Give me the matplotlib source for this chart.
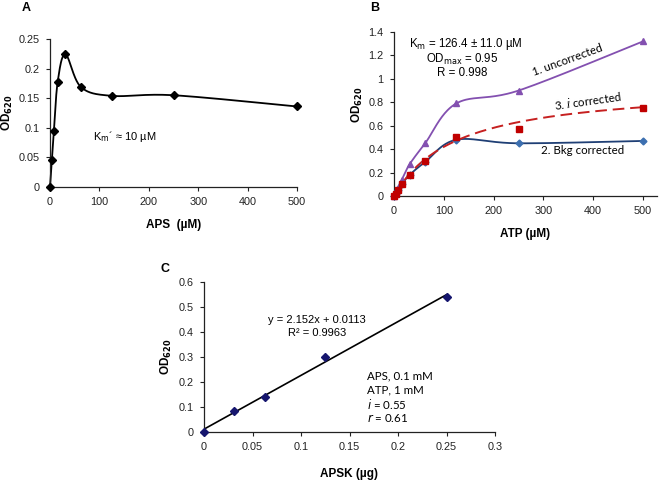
import numpy as np
import matplotlib
matplotlib.use("Agg")
import matplotlib.pyplot as plt
from matplotlib.ticker import FuncFormatter, MultipleLocator

# ---------------- data ----------------
aps_conc = [0, 3.9, 7.8, 15.6, 31.25, 62.5, 125, 250, 500]
aps_od = [0, 0.046, 0.094, 0.178, 0.224, 0.169, 0.154, 0.155, 0.136]

atp_conc = [0, 3.9, 7.8, 15.6, 31.25, 62.5, 125, 250, 500]
od_uncorrected = [0, 0.04, 0.07, 0.14, 0.27, 0.45, 0.79, 0.90, 1.32]
od_bkg = [0, 0.02, 0.05, 0.10, 0.18, 0.29, 0.48, 0.45, 0.47]
od_icorr = [0, 0.02, 0.05, 0.10, 0.18, 0.30, 0.50, 0.57, 0.75]
km_fit = 126.4
odmax_fit = 0.95

apsk_ug = [0, 0.03125, 0.0625, 0.125, 0.25]
apsk_od = [0, 0.085, 0.14, 0.30, 0.54]
slope, intercept = 2.152, 0.0113

W, H = 661, 480
fig = plt.figure(figsize=(W / 100, H / 100), dpi=100)

TICKFONT = 'Liberation Sans'
NOTEFONT = 'Lato'


def px_axes(l, r, top, bottom):
    return fig.add_axes([l / W, (H - bottom) / H, (r - l) / W, (bottom - top) / H])


def style(ax):
    for s in ['top', 'right']:
        ax.spines[s].set_visible(False)
    for s in ['left', 'bottom']:
        ax.spines[s].set_color('#222222')
        ax.spines[s].set_linewidth(0.9)
    ax.tick_params(direction='out', length=3, width=0.8, colors='#222222',
                   labelsize=7.8, pad=4.5)
    for lab in ax.get_xticklabels() + ax.get_yticklabels():
        lab.set_fontfamily(TICKFONT)
    fmt = FuncFormatter(lambda v, p: ('%g' % round(v, 4)))
    ax.xaxis.set_major_formatter(fmt)
    ax.yaxis.set_major_formatter(fmt)


def smooth(ax, x, y, n=40):
    # Excel-like smoothed line (Bezier via Catmull-Rom) in normalized axis space
    x0, x1 = ax.get_xlim()
    y0, y1 = ax.get_ylim()
    xs = (np.asarray(x, float) - x0) / (x1 - x0)
    ys = (np.asarray(y, float) - y0) / (y1 - y0)
    P = np.column_stack([xs, ys])
    out = []
    m = len(P)
    for i in range(m - 1):
        p0 = P[i - 1] if i > 0 else P[i]
        p1 = P[i]
        p2 = P[i + 1]
        p3 = P[i + 2] if i + 2 < m else P[i + 1]
        c1 = p1 + (p2 - p0) / 6
        c2 = p2 - (p3 - p1) / 6
        t = np.linspace(0, 1, n)[:, None]
        seg = ((1 - t) ** 3) * p1 + 3 * ((1 - t) ** 2) * t * c1 + 3 * (1 - t) * t ** 2 * c2 + t ** 3 * p2
        out.append(seg if i == 0 else seg[1:])
    Q = np.vstack(out)
    return Q[:, 0] * (x1 - x0) + x0, Q[:, 1] * (y1 - y0) + y0


def ylabel_at(ax, xpix, ypix):
    ax.set_ylabel('OD$_{\\mathbf{620}}$', fontsize=8.5, fontweight='bold', family=TICKFONT)
    ax.yaxis.set_label_coords(xpix / W, (H - ypix) / H, transform=fig.transFigure)
    ax.yaxis.label.set_va('center')


# ---------------- Panel A ----------------
axA = px_axes(50, 297, 39, 187)
axA.set_xlim(0, 500)
axA.set_ylim(0, 0.25)
axA.xaxis.set_major_locator(MultipleLocator(100))
axA.yaxis.set_major_locator(MultipleLocator(0.05))
style(axA)
sx, sy = smooth(axA, aps_conc, aps_od)
axA.plot(sx, sy, color='black', lw=1.3, clip_on=False)
axA.plot(aps_conc, aps_od, ls='none', marker='D', ms=4, color='black', clip_on=False, zorder=3)
axA.set_xlabel('APS  (µM)', fontsize=8.5, fontweight='bold', family=TICKFONT, labelpad=8)
ylabel_at(axA, 7, 113)
axA.text(93, H - 137, "K$_{\\mathrm{m}}$´ ≈ 10 µM", transform=None, fontsize=8, family=TICKFONT,
         va='center', ha='left')
fig.text(26 / W, 1 - 8 / H, 'A', fontsize=9, fontweight='bold', family=TICKFONT, va='center', ha='center')

# ---------------- Panel B ----------------
axB = px_axes(394, 657, 32, 196)
axB.set_xlim(0, 500 * (657 - 394) / (643 - 394))
axB.set_ylim(0, 1.4)
axB.set_xticks([0, 100, 200, 300, 400, 500])
axB.yaxis.set_major_locator(MultipleLocator(0.2))
style(axB)
purple = '#8350B0'
navy = '#1F3F75'
red = '#C62020'
sx, sy = smooth(axB, atp_conc, od_uncorrected)
axB.plot(sx, sy, color=purple, lw=1.3, clip_on=False)
axB.plot(atp_conc, od_uncorrected, ls='none', marker='^', ms=5, color=purple, clip_on=False, zorder=3)
sx, sy = smooth(axB, atp_conc, od_bkg)
axB.plot(sx, sy, color=navy, lw=1.3, clip_on=False)
axB.plot(atp_conc, od_bkg, ls='none', marker='D', ms=3.5, color='#3C6FB0', clip_on=False, zorder=3)
fx = np.linspace(0, 500, 200)
axB.plot(fx, odmax_fit * fx / (km_fit + fx), color=red, lw=1.4, ls=(0, (6, 3)), clip_on=False)
axB.plot(atp_conc, od_icorr, ls='none', marker='s', ms=4.5, color='#C00000', clip_on=False, zorder=4)
axB.set_xlabel('ATP (µM)', fontsize=8.5, fontweight='bold', family=TICKFONT, labelpad=8)
ylabel_at(axB, 357, 105)
axB.text(409, H - 44, 'K$_{\\mathrm{m}}$ = 126.4 ± 11.0 µM', transform=None, fontsize=8.3,
         family=TICKFONT, va='center', ha='left')
axB.text(462, H - 59, 'OD$_{\\mathrm{max}}$ = 0.95', transform=None, fontsize=8.3,
         family=TICKFONT, va='center', ha='center')
axB.text(462, H - 73, 'R = 0.998', transform=None, fontsize=8.3,
         family=TICKFONT, va='center', ha='center')
axB.text(568, H - 60, '1. uncorrected', transform=None, fontsize=8.3, family=NOTEFONT,
         rotation=20, va='center', ha='center')
axB.text(588, H - 100, '3. $\\it{i}$ corrected', transform=None, fontsize=8.3, family=NOTEFONT,
         rotation=8, va='center', ha='center')
axB.text(583, H - 150, '2. Bkg corrected', transform=None, fontsize=8.3, family=NOTEFONT,
         va='center', ha='center')
fig.text(375 / W, 1 - 8 / H, 'B', fontsize=9, fontweight='bold', family=TICKFONT, va='center', ha='center')

# ---------------- Panel C ----------------
axC = px_axes(204, 495, 282, 432)
axC.set_xlim(0, 0.3)
axC.set_ylim(0, 0.6)
axC.xaxis.set_major_locator(MultipleLocator(0.05))
axC.yaxis.set_major_locator(MultipleLocator(0.1))
style(axC)
lx = np.array([0, max(apsk_ug)])
axC.plot(lx, slope * lx + intercept, color='black', lw=1.2)
axC.plot(apsk_ug, apsk_od, ls='none', marker='D', ms=3.8, color='#16166E', clip_on=False, zorder=3)
axC.set_xlabel('APSK (µg)', fontsize=8.5, fontweight='bold', family=TICKFONT, labelpad=11)
ylabel_at(axC, 166, 357)
axC.text(317, H - 320, 'y = 2.152x + 0.0113', transform=None, fontsize=8, family=TICKFONT,
         va='center', ha='center')
axC.text(317, H - 333, 'R² = 0.9963', transform=None, fontsize=8, family=TICKFONT,
         va='center', ha='center')
for i, t in enumerate(['APS, 0.1 mM', 'ATP, 1 mM', '$\\it{i}$ = 0.55', '$\\it{r}$ = 0.61']):
    axC.text(367, H - (376 + 14 * i), t, transform=None, fontsize=8.3, family=NOTEFONT,
             va='center', ha='left')
fig.text(165 / W, 1 - 269 / H, 'C', fontsize=9, fontweight='bold', family=TICKFONT, va='center', ha='center')

fig.savefig('out.png', dpi=100)
